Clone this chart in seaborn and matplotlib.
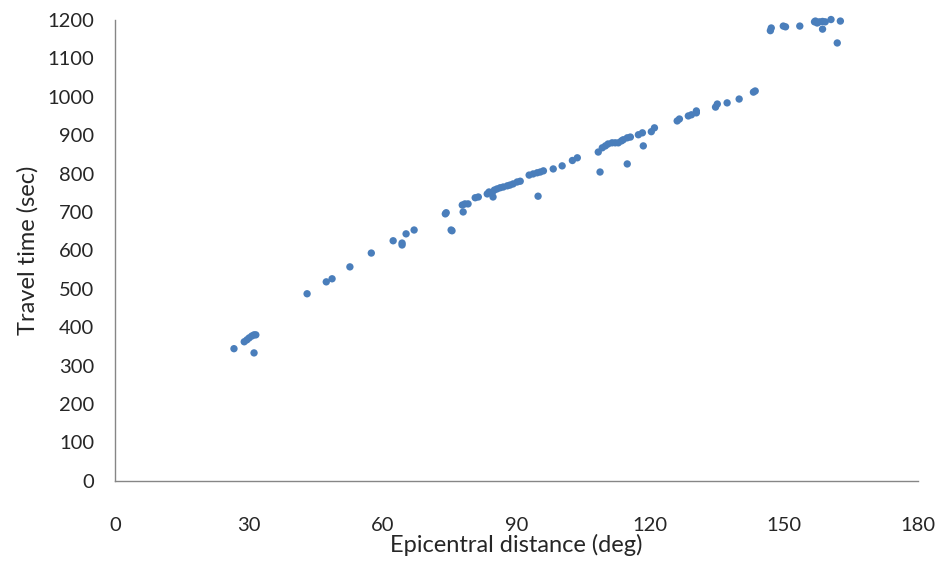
import numpy as np
import pandas as pd
import matplotlib
matplotlib.use("Agg")
import matplotlib.pyplot as plt
import seaborn as sns

# Values
distance = [26.7, 29.0, 29.6, 30.1, 30.7, 31.2, 31.6, 31.2,
            43.1, 47.4, 48.7, 52.7, 57.5,
            62.4, 64.4, 64.4, 65.3, 67.1,
            74.1, 74.3, 75.4, 75.6, 78.1, 77.9, 78.5, 79.2, 80.8, 81.5,
            83.5, 83.9, 84.6, 84.8, 85.1, 85.7, 86.4, 87.1, 88.0, 88.6, 89.3, 90.2, 90.9,
            92.9, 93.8, 94.7, 95.4, 96.1, 94.9, 98.3, 100.3, 102.6, 103.7,
            108.4, 109.3, 110.0, 110.6, 111.5, 112.2, 112.9, 113.6, 114.0, 114.9, 115.6,
            108.8, 114.9, 117.4, 118.3, 118.5, 120.3, 121.0,
            126.1, 126.6, 128.6, 129.3, 130.4, 130.4, 134.7, 135.1, 137.3, 140.0, 143.2, 143.6,
            147.0, 147.2, 149.9, 150.4, 153.6,
            156.9, 157.1, 157.5, 158.0, 158.7, 159.3, 160.6, 158.7, 162.7, 162.0]
travel_time = [344, 362, 367, 372, 377, 380, 380, 333,
               487, 518, 526, 557, 593,
               625, 619, 614, 643, 653,
               695, 698, 653, 651, 700, 718, 721, 721, 737, 739,
               747, 752, 750, 739, 757, 760, 763, 765, 768, 770, 773, 778, 780,
               796, 799, 802, 804, 807, 741, 812, 820, 834, 841,
               856, 867, 872, 877, 880, 880, 880, 885, 888, 893, 895,
               804, 825, 901, 906, 872, 909, 919,
               937, 942, 950, 953, 958, 963, 973, 981, 984, 994, 1012, 1015,
               1172, 1179, 1184, 1182, 1184,
               1195, 1197, 1192, 1195, 1196, 1195, 1201, 1176, 1197, 1140]

df = pd.DataFrame({"distance": distance, "time": travel_time})

sns.set_style("white")
plt.rcParams["font.family"] = ["Lato", "DejaVu Sans"]

fig = plt.figure(figsize=(9.42, 5.69), dpi=100)
ax = fig.add_axes([0.122, 0.155, 0.852, 0.81])

sns.scatterplot(data=df, x="distance", y="time", ax=ax, color="#4A7EBB",
                s=28, edgecolor="none", linewidth=0, clip_on=False)

ax.set_xlim(0, 180)
ax.set_ylim(0, 1200)
ax.set_xticks(np.arange(0, 181, 30))
ax.set_yticks(np.arange(0, 1201, 100))

for side in ["top", "right"]:
    ax.spines[side].set_visible(False)
for side in ["left", "bottom"]:
    ax.spines[side].set_color("#868686")
    ax.spines[side].set_linewidth(1)

ax.tick_params(axis="both", which="major", direction="out", length=6,
               color="#868686", labelsize=14.5, labelcolor="#262626")
ax.tick_params(axis="x", pad=20)
ax.tick_params(axis="y", pad=9)

ax.set_xlabel("Epicentral distance (deg)", fontsize=17, labelpad=0)
ax.set_ylabel("Travel time (sec)", fontsize=17, labelpad=6)

fig.savefig("out.png", dpi=100)
